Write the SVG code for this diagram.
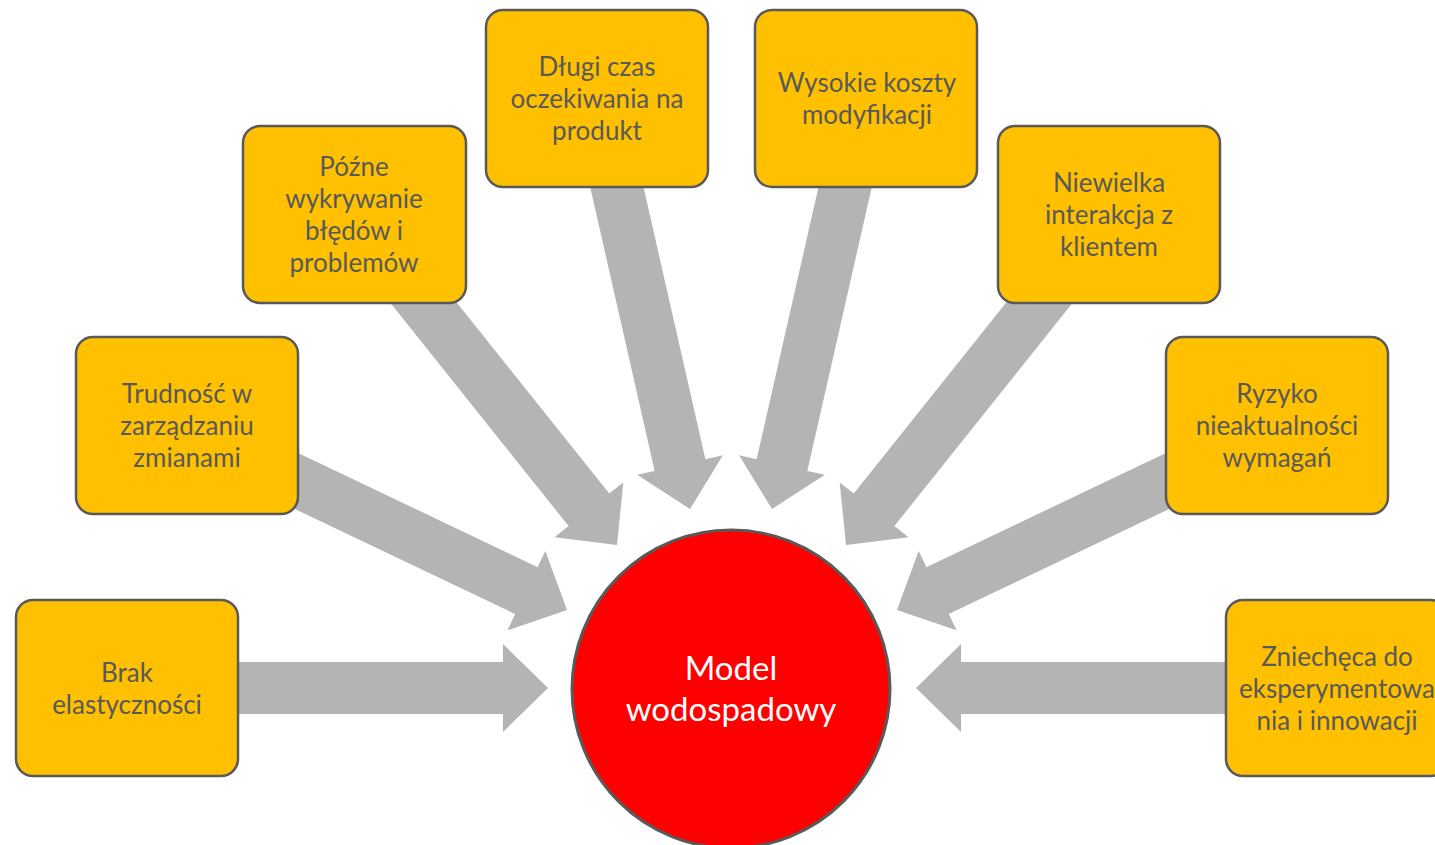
<svg xmlns="http://www.w3.org/2000/svg" width="1435" height="845" viewBox="0 0 1435 845">
  <defs>
    <style>
      .box { fill: #FFC000; stroke: #595959; stroke-width: 2.5; }
      .lbl { font-family: Lato, "Open Sans", sans-serif; font-size: 26px; fill: #595959; text-anchor: middle; }
      .arrow { fill: #B4B4B4; }
      .hub { fill: #FF0000; stroke: #595959; stroke-width: 3; }
      .hublbl { font-family: Lato, "Open Sans", sans-serif; font-size: 33px; fill: #FFFFFF; text-anchor: middle; }
    </style>
    <!-- block arrow pointing along +x with its tip at the origin -->
    <path id="blk" d="M -340,-26 L -45,-26 L -45,-44 L 0,0 L -45,44 L -45,26 L -340,26 Z"/>
  </defs>
  <rect width="1435" height="845" fill="#FFFFFF"/>

  <g id="connectors" class="arrow">
    <use href="#blk" transform="translate(548,688)"/>
    <use href="#blk" transform="translate(567,610) rotate(25.5)"/>
    <use href="#blk" transform="translate(617,545) rotate(51.4)"/>
    <use href="#blk" transform="translate(690,509) rotate(77.2)"/>
    <use href="#blk" transform="translate(772,509) rotate(102.8)"/>
    <use href="#blk" transform="translate(846,545) rotate(128.6)"/>
    <use href="#blk" transform="translate(897,610) rotate(154.5)"/>
    <use href="#blk" transform="translate(916,688) rotate(180)"/>
  </g>

  <g id="brak">
    <rect class="box" x="16" y="600" width="222" height="176" rx="17"/>
    <text class="lbl"><tspan x="127" y="682">Brak</tspan><tspan x="127" y="714">elastyczności</tspan></text>
  </g>
  <g id="trudnosc">
    <rect class="box" x="76" y="337" width="222" height="177" rx="17"/>
    <text class="lbl"><tspan x="187" y="403">Trudność w</tspan><tspan x="187" y="435">zarządzaniu</tspan><tspan x="187" y="467">zmianami</tspan></text>
  </g>
  <g id="pozne">
    <rect class="box" x="243" y="126" width="223" height="177" rx="17"/>
    <text class="lbl"><tspan x="354" y="176">Późne</tspan><tspan x="354" y="208">wykrywanie</tspan><tspan x="354" y="240">błędów i</tspan><tspan x="354" y="272">problemów</tspan></text>
  </g>
  <g id="dlugi">
    <rect class="box" x="486" y="10" width="222" height="177" rx="17"/>
    <text class="lbl"><tspan x="597" y="76">Długi czas</tspan><tspan x="597" y="108">oczekiwania na</tspan><tspan x="597" y="140">produkt</tspan></text>
  </g>
  <g id="koszty">
    <rect class="box" x="755" y="10" width="222" height="177" rx="17"/>
    <text class="lbl"><tspan x="867" y="92">Wysokie koszty</tspan><tspan x="867" y="124">modyfikacji</tspan></text>
  </g>
  <g id="interakcja">
    <rect class="box" x="998" y="126" width="222" height="177" rx="17"/>
    <text class="lbl"><tspan x="1109" y="192">Niewielka</tspan><tspan x="1109" y="224">interakcja z</tspan><tspan x="1109" y="256">klientem</tspan></text>
  </g>
  <g id="ryzyko">
    <rect class="box" x="1166" y="337" width="222" height="177" rx="17"/>
    <text class="lbl"><tspan x="1277" y="403">Ryzyko</tspan><tspan x="1277" y="435">nieaktualności</tspan><tspan x="1277" y="467">wymagań</tspan></text>
  </g>
  <g id="zniecheca">
    <rect class="box" x="1226" y="600" width="222" height="176" rx="17"/>
    <text class="lbl"><tspan x="1337" y="666">Zniechęca do</tspan><tspan x="1337" y="698">eksperymentowa</tspan><tspan x="1337" y="730">nia i innowacji</tspan></text>
  </g>

  <g id="model">
    <circle class="hub" cx="731" cy="689" r="159"/>
    <text class="hublbl"><tspan x="731" y="680">Model</tspan><tspan x="731" y="721">wodospadowy</tspan></text>
  </g>
</svg>
